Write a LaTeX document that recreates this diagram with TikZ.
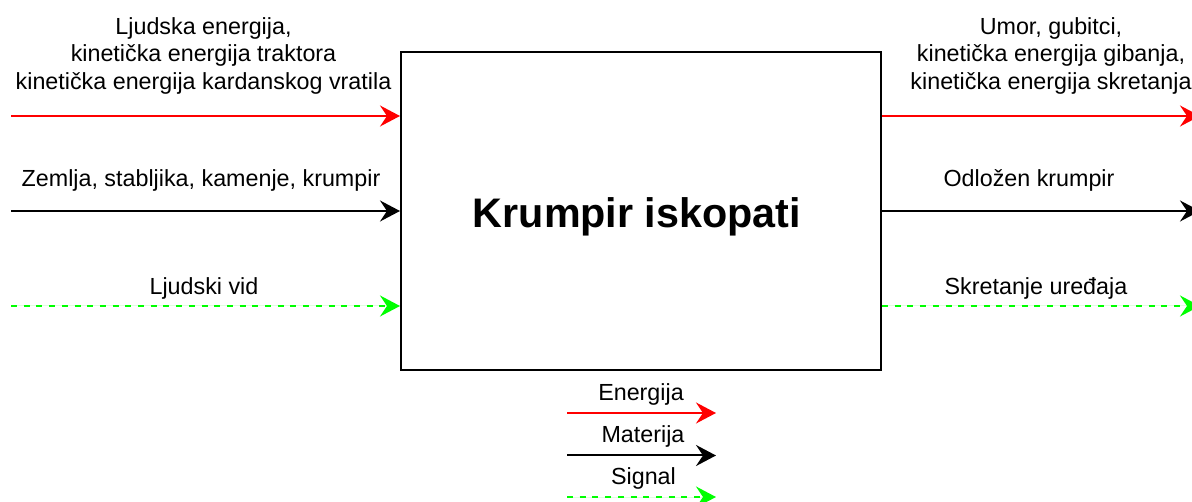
\documentclass[tikz,border=0pt]{standalone}
\usepackage{fontspec}
\setmainfont{Liberation Sans}
\usetikzlibrary{arrows.meta}
\begin{document}
\begin{tikzpicture}[x=1pt,y=-1pt,
  flow/.style={line width=2pt,-{Stealth[length=20pt,width=21pt,inset=7pt]}},
  energy/.style={flow,draw=red,fill=red},
  matter/.style={flow,draw=black,fill=black},
  signal/.style={flow,draw=green,fill=green,dash pattern=on 6pt off 6.7pt},
  lbl/.style={inner sep=0pt,anchor=base,align=center,font=\fontsize{23.3}{27.5}\selectfont},
  block/.style={draw,line width=2pt,minimum width=480pt,minimum height=318pt,inner sep=0pt}]
\useasboundingbox (0,0) rectangle (1192,502);
\fill[white] (0,0) rectangle (1192,502);

\node[block] (box) at (641,211) {};
\node[inner sep=0pt,anchor=base,font=\fontsize{41.3}{48}\selectfont\bfseries] (title) at (637,227.5) {Krumpir iskopati};

% inputs
\coordinate (inE) at (11,116);
\coordinate (inM) at (11,211);
\coordinate (inS) at (11,306);
\draw[energy] (inE) -- (inE -| box.west);
\draw[matter] (inM) -- (inM -| box.west);
\draw[signal] (inS) -- (inS -| box.west);

% outputs
\coordinate (outE) at (1200,116);
\coordinate (outM) at (1200,211);
\coordinate (outS) at (1200,306);
\draw[energy] (outE -| box.east) -- (outE);
\draw[matter] (outM -| box.east) -- (outM);
\draw[signal] (outS -| box.east) -- (outS);

% labels
\node[lbl] (lE) at (203.5,89.3) {Ljudska energija,\\kinetička energija traktora\\kinetička energija kardanskog vratila};
\node[lbl] (lM) at (201,187) {Zemlja, stabljika, kamenje, krumpir};
\node[lbl] (lS) at (204,295) {Ljudski vid};
\node[lbl] (rE) at (1051,89.3) {Umor, gubitci,\\kinetička energija gibanja,\\kinetička energija skretanja};
\node[lbl] (rM) at (1029,187) {Odložen krumpir};
\node[lbl] (rS) at (1036,295) {Skretanje uređaja};

% legend
\coordinate (gE1) at (567,413);
\coordinate (gE2) at (716,413);
\coordinate (gM1) at (567,455.5);
\coordinate (gM2) at (716,455.5);
\coordinate (gS1) at (567,497);
\coordinate (gS2) at (716,497);
\draw[energy] (gE1) -- (gE2);
\draw[matter] (gM1) -- (gM2);
\draw[signal] (gS1) -- (gS2);
\node[lbl] (tE) at (641,400.5) {Energija};
\node[lbl] (tM) at (643,443) {Materija};
\node[lbl] (tS) at (643.5,485) {Signal};
\end{tikzpicture}
\end{document}
